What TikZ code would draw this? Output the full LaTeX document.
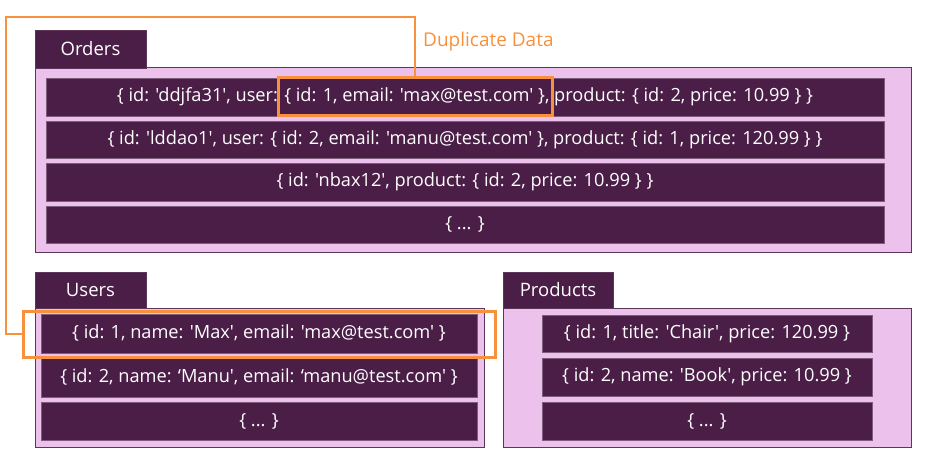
\documentclass[tikz,border=0pt]{standalone}
\usepackage{fontspec}
\newfontfamily\lato{Open Sans}[Ligatures=TeXOff]
\definecolor{dpurple}{HTML}{4B1E48}
\definecolor{lpink}{HTML}{ECC1EC}
\definecolor{cborder}{HTML}{5C355A}
\definecolor{dorange}{HTML}{F7913D}
\tikzset{
  tab/.style={fill=dpurple, draw=cborder, line width=0.6pt, text=white, font=\lato\fontsize{18.5}{20}\selectfont, inner sep=0pt},
  container/.style={fill=lpink, draw=cborder, line width=1pt, inner sep=0pt},
  rowbox/.style={fill=dpurple, draw=cborder!80, line width=0.5pt, text=white, font=\lato\fontsize{18.2}{20}\selectfont, inner sep=0pt},
  hlbox/.style={draw=dorange, line width=3pt, inner sep=0pt},
  dupline/.style={draw=dorange, line width=2.4pt},
  duplabel/.style={text=dorange, font=\lato\fontsize{19}{21}\selectfont, inner sep=0pt, anchor=west}
}
\begin{document}
\begin{tikzpicture}[x=1pt,y=-1pt]
\useasboundingbox (0,0) rectangle (939,465);
% Orders
\node[container, minimum width=876, minimum height=184] (ordc) at (473,160) {};
\node[tab, minimum width=111, minimum height=38] (ordt) at (90.5,49) {Orders};
\node[rowbox, minimum width=838, minimum height=38] (o1) at (465,97) {\{ id: 'ddjfa31', user: \{ id: 1, email: 'max@test.com' \}, product: \{ id: 2, price: 10.99 \} \}};
\node[rowbox, minimum width=838, minimum height=37] (o2) at (465,139.5) {\{ id: 'lddao1', user: \{ id: 2, email: 'manu@test.com' \}, product: \{ id: 1, price: 120.99 \} \}};
\node[rowbox, minimum width=838, minimum height=38] (o3) at (465,182) {\{ id: 'nbax12', product: \{ id: 2, price: 10.99 \} \}};
\node[rowbox, minimum width=838, minimum height=37] (o4) at (465,224.5) {\{ ... \}};
% Users
\node[container, minimum width=449, minimum height=139] (usc) at (259.5,377.5) {};
\node[tab, minimum width=111, minimum height=36] (ust) at (90.5,290) {Users};
\node[rowbox, minimum width=436, minimum height=39] (u1) at (259,333.5) {\{ id: 1, name: 'Max', email: 'max@test.com' \}};
\node[rowbox, minimum width=436, minimum height=39] (u2) at (259,377.5) {\{ id: 2, name: ‘Manu', email: ‘manu@test.com' \}};
\node[rowbox, minimum width=436, minimum height=38] (u3) at (259,421) {\{ ... \}};
% Products
\node[container, minimum width=408, minimum height=139] (prc) at (707,377.5) {};
\node[tab, minimum width=110, minimum height=36] (prt) at (558,290) {Products};
\node[rowbox, minimum width=330, minimum height=37] (p1) at (707,333.5) {\{ id: 1, title: 'Chair', price: 120.99 \}};
\node[rowbox, minimum width=330, minimum height=38] (p2) at (707,377) {\{ id: 2, name: 'Book', price: 10.99 \}};
\node[rowbox, minimum width=330, minimum height=38] (p3) at (707,421) {\{ ... \}};
% Highlights
\node[hlbox, minimum width=274, minimum height=38] (hl1) at (415,97) {};
\node[hlbox, minimum width=472, minimum height=46] (hl2) at (259,334) {};
\coordinate (corner) at (6,17);
\draw[dupline] (hl1.north) |- (corner) |- (hl2.west);
\node[duplabel] (dup) at (423,42) {Duplicate Data};
\end{tikzpicture}
\end{document}
